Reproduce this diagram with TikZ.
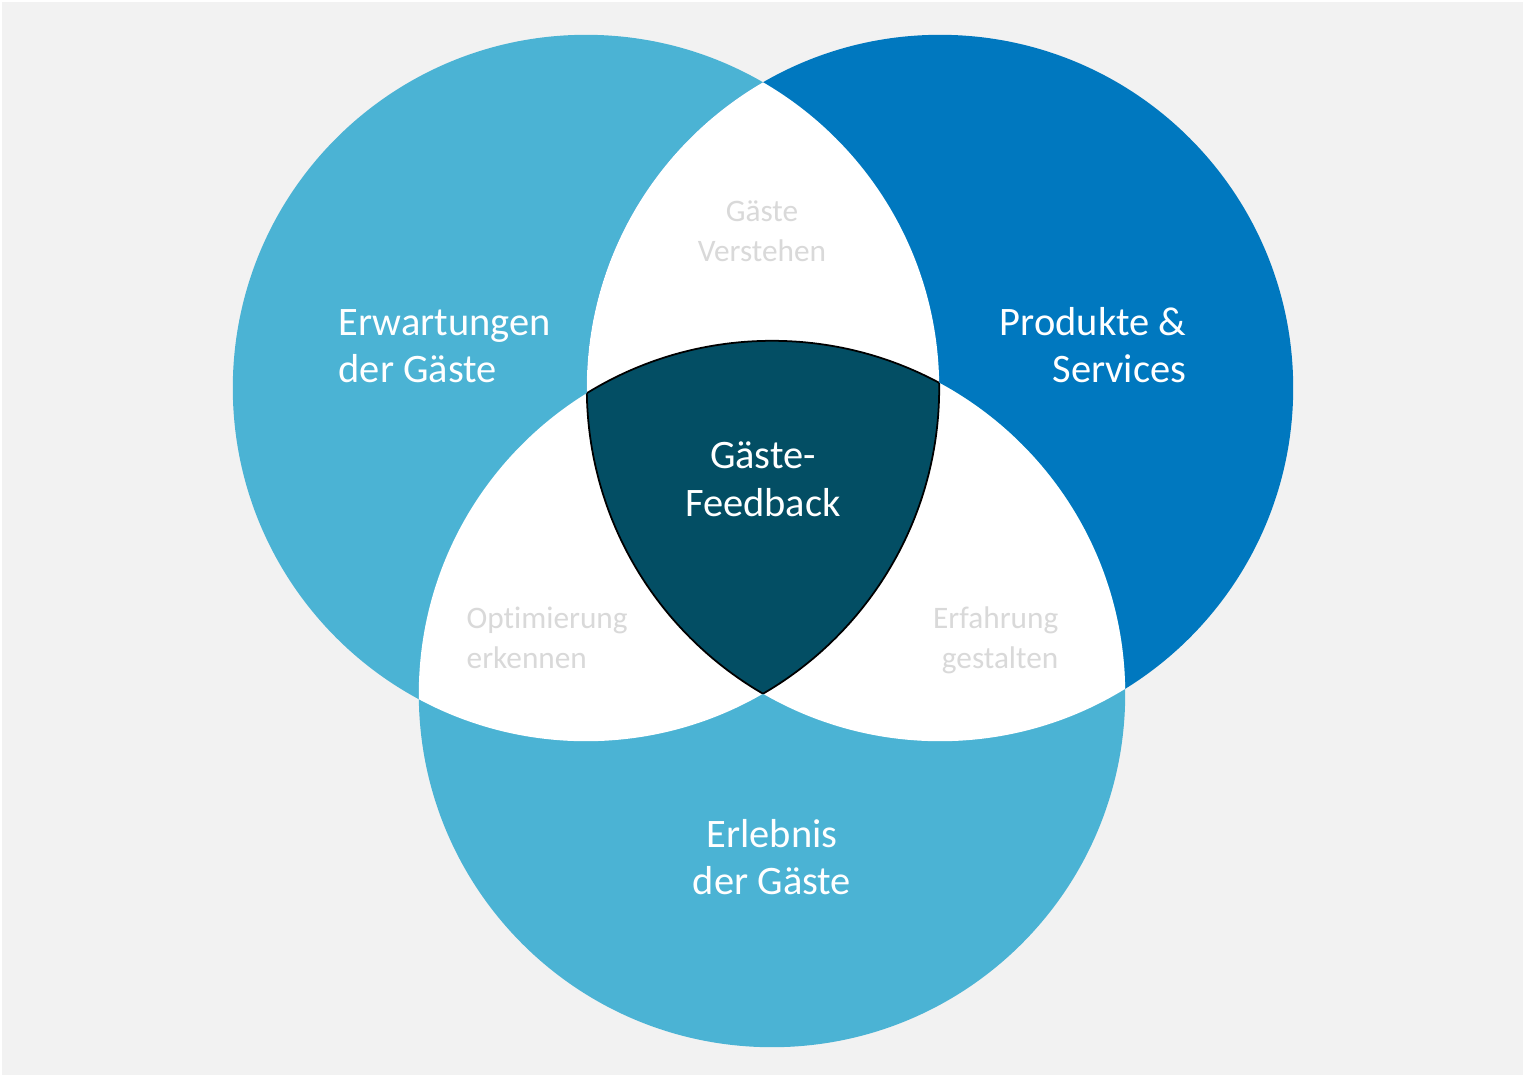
\documentclass[tikz,border=0pt]{standalone}
\usepackage{fontspec}
\setmainfont{Carlito}[Ligatures=NoCommon]
\definecolor{bgGrey}{HTML}{F2F2F2}
\definecolor{lightBlue}{HTML}{4BB3D4}
\definecolor{darkBlue}{HTML}{0078BF}
\definecolor{petrol}{HTML}{034E64}
\definecolor{softGrey}{HTML}{D9D9D9}

\begin{document}
\begin{tikzpicture}[x=0.01cm,y=-0.01cm,
    main/.style={text=white,font=\fontsize{11.5}{13.5}\selectfont,inner sep=0pt},
    minor/.style={text=softGrey,font=\fontsize{8.9}{11.3}\selectfont,inner sep=0pt}]
    \useasboundingbox (0,0) rectangle (1523,1075);
    \fill[white] (0,0) rectangle (1523,1075);
    \fill[bgGrey] (2,2) rectangle (1523,1075);

    % circle centres
    \coordinate (cl) at (586,388);
    \coordinate (cr) at (940,388);
    \coordinate (cb) at (772,694);

    \fill[lightBlue] (cl) circle (3.53cm);
    \fill[darkBlue] (cr) circle (3.53cm);
    \fill[lightBlue] (cb) circle (3.53cm);

    % overlaps of two
    \begin{scope}
        \clip (cl) circle (3.53cm);
        \fill[white] (cr) circle (3.53cm);
        \fill[white] (cb) circle (3.53cm);
    \end{scope}
    \begin{scope}
        \clip (cr) circle (3.53cm);
        \fill[white] (cb) circle (3.53cm);
    \end{scope}

    % overlap of all three
    \begin{scope}
        \clip (cl) circle (3.53cm);
        \clip (cr) circle (3.53cm);
        \fill[petrol] (cb) circle (3.53cm);
        \draw[line width=0.5pt] (cb) circle (3.53cm);
    \end{scope}
    \begin{scope}
        \clip (cl) circle (3.53cm);
        \clip (cb) circle (3.53cm);
        \draw[line width=0.5pt] (cr) circle (3.53cm);
    \end{scope}
    \begin{scope}
        \clip (cr) circle (3.53cm);
        \clip (cb) circle (3.53cm);
        \draw[line width=0.5pt] (cl) circle (3.53cm);
    \end{scope}

    % anchors sit on the last line
    \node[main,anchor=base west,align=left] (expect) at (338,382.5) {Erwartungen\\der Gäste};
    \node[main,anchor=base east,align=right] (product) at (1187,382.5) {Produkte \&\\Services};
    \node[main,anchor=base,align=center] (feedback) at (763,516) {Gäste-\\Feedback};
    \node[main,anchor=base,align=center] (experience) at (772,894.5) {Erlebnis\\der Gäste};

    \node[minor,anchor=base,align=center] (understand) at (762,261.7) {Gäste\\Verstehen};
    \node[minor,anchor=base west,align=left] (optimise) at (466,668.5) {Optimierung\\erkennen};
    \node[minor,anchor=base east,align=right] (design) at (1059,668.5) {Erfahrung\\gestalten};
\end{tikzpicture}
\end{document}
